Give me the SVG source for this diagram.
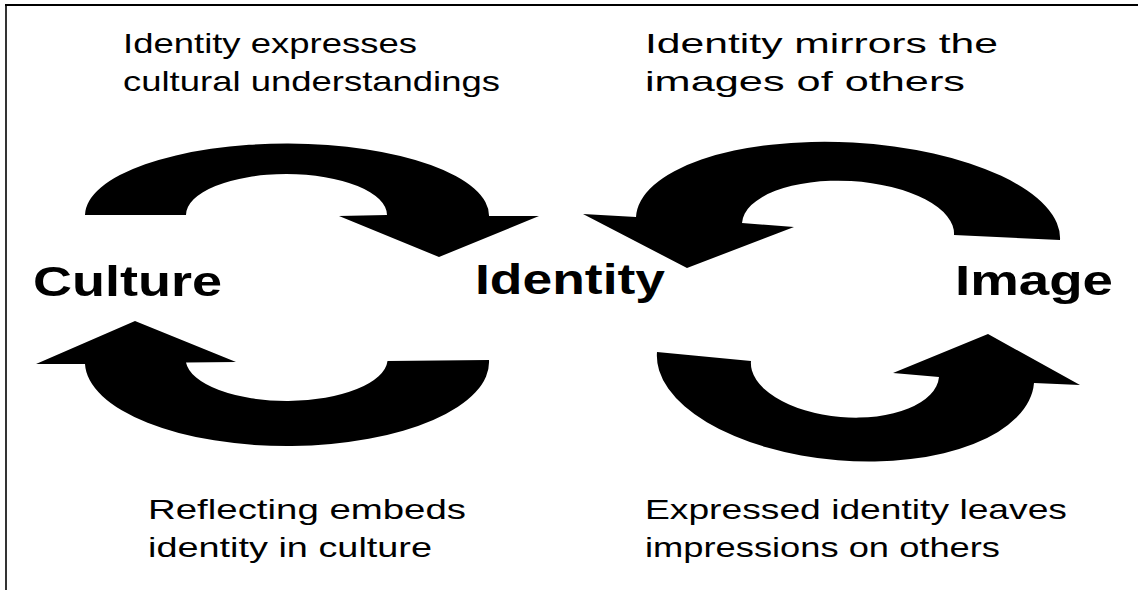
<svg xmlns="http://www.w3.org/2000/svg" width="1138" height="590" viewBox="0 0 1138 590">
  <style>
    .lbl { font-family: "Liberation Sans", Arial, sans-serif; font-size: 28px; fill: #000; }
    .big { font-family: "Liberation Sans", Arial, sans-serif; font-size: 43px; font-weight: bold; fill: #000; }
    .arrow { fill: #000; stroke: none; }
    .frame { stroke: #000; fill: none; }
  </style>
  <rect width="1138" height="590" fill="#fff"/>
  <g id="frame">
    <line class="frame" x1="5" y1="5" x2="1138" y2="5" stroke-width="2"/>
    <line class="frame" x1="6" y1="4" x2="6" y2="590" stroke-width="1.6" stroke="#1a1a1a"/>
  </g>
  <g id="culture">
    <text class="big" x="33" y="296" textLength="189" lengthAdjust="spacingAndGlyphs">Culture</text>
  </g>
  <g id="identity">
    <text class="big" x="475" y="294" textLength="190" lengthAdjust="spacingAndGlyphs">Identity</text>
  </g>
  <g id="image">
    <text class="big" x="955" y="295" textLength="158" lengthAdjust="spacingAndGlyphs">Image</text>
  </g>
  <g id="connectors">
    <path id="arrow-culture-identity" class="arrow" d="M 85,215 A 202 72 0 0 1 489,216 L 539,216 L 439,257 L 339,216 L 387,215 A 100.5 41 0 0 0 186,215 Z"/>
    <path id="arrow-image-identity" class="arrow" d="M 1060,240 A 212 86 3.1 0 0 636,217 L 583,214 L 687,268 L 794,227 L 742,223 A 106 48 3.1 0 1 954,235 Z"/>
    <path id="arrow-identity-culture" class="arrow" d="M 489,360 A 202 84 0 0 1 85,364 L 36,364 L 135,321 L 236,362 L 186,362.5 A 101 42 0 0 0 387.5,361 Z"/>
    <path id="arrow-identity-image" class="arrow" d="M 657,352 A 189 93 4.7 0 0 1034,383 L 1080,385 L 988,334 L 893,373 L 939,377 A 94 48 4.7 0 1 751,361 Z"/>
    <g id="connector-labels">
      <text class="lbl" x="123" y="53" textLength="294" lengthAdjust="spacingAndGlyphs">Identity expresses</text>
      <text class="lbl" x="123" y="91" textLength="377" lengthAdjust="spacingAndGlyphs">cultural understandings</text>
      <text class="lbl" x="645" y="53" textLength="353" lengthAdjust="spacingAndGlyphs">Identity mirrors the</text>
      <text class="lbl" x="645" y="91" textLength="320" lengthAdjust="spacingAndGlyphs">images of others</text>
      <text class="lbl" x="148" y="519" textLength="318" lengthAdjust="spacingAndGlyphs">Reflecting embeds</text>
      <text class="lbl" x="148" y="557" textLength="284" lengthAdjust="spacingAndGlyphs">identity in culture</text>
      <text class="lbl" x="645" y="519" textLength="422" lengthAdjust="spacingAndGlyphs">Expressed identity leaves</text>
      <text class="lbl" x="645" y="557" textLength="355" lengthAdjust="spacingAndGlyphs">impressions on others</text>
    </g>
  </g>
</svg>
